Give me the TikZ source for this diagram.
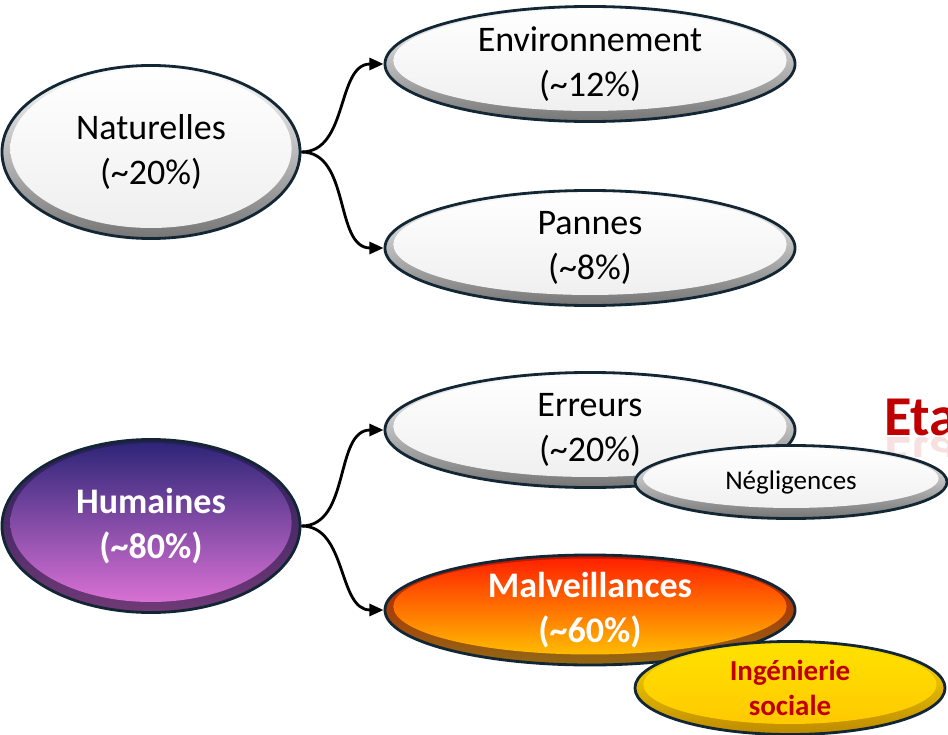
\documentclass[tikz,border=0pt]{standalone}
\usepackage{fontspec}
\setmainfont{Carlito}
\usepackage{xcolor}
\usepackage{tikz}
\usetikzlibrary{shapes.geometric, arrows.meta, calc}
\definecolor{edgeDark}{RGB}{18, 38, 52}
\definecolor{rimGrey}{RGB}{118, 118, 118}
\definecolor{innerGrey}{RGB}{238, 238, 238}
\definecolor{humTop}{RGB}{42, 36, 118}
\definecolor{humBot}{RGB}{228, 118, 218}
\definecolor{humRimTop}{RGB}{40, 28, 92}
\definecolor{humRimBot}{RGB}{112, 58, 118}
\definecolor{malTop}{RGB}{255, 28, 0}
\definecolor{malBot}{RGB}{255, 205, 0}
\definecolor{malRim}{RGB}{145, 105, 20}
\definecolor{ingTop}{RGB}{255, 226, 0}
\definecolor{ingBot}{RGB}{255, 198, 0}
\definecolor{ingRim}{RGB}{190, 138, 0}
\definecolor{titleRed}{RGB}{192, 0, 0}

\tikzset{
  bubble/.style n args={4}{ellipse, draw=edgeDark, line width=2pt, inner sep=0pt, align=center,
    top color=#1, bottom color=#2,
    path picture={
      \shade[top color=#3, bottom color=#4]
        let \p1=($(path picture bounding box.north east)-(path picture bounding box.south west)$) in
        ([yshift=2.5pt]path picture bounding box.center) ellipse ({0.5*\x1-6pt} and {0.5*\y1-5pt});
    }},
  greyBubble/.style={bubble={white}{rimGrey}{white}{innerGrey}, text=black},
  bigText/.style={font=\fontsize{25.6}{32}\selectfont},
  bigBold/.style={font=\bfseries\fontsize{25.6}{32}\selectfont, text=white},
  link/.style={-{Triangle[length=10pt, width=8.5pt]}, line width=2pt, black}
}

\begin{document}
\begin{tikzpicture}[x=0.025cm, y=-0.025cm]
    \useasboundingbox (0,0) rectangle (948,735);
    % Naturelles branch
    \node[greyBubble, bigText, minimum width=7.45cm, minimum height=4.325cm] (naturelles) at (151,152) {Naturelles\\(\textasciitilde20\%)};
    \node[greyBubble, bigText, minimum width=10.25cm, minimum height=2.875cm] (environnement) at (590,64) {Environnement\\(\textasciitilde12\%)};
    \node[greyBubble, bigText, minimum width=10.25cm, minimum height=2.875cm] (pannes) at (590,248) {Pannes\\(\textasciitilde8\%)};
    \draw[link] (naturelles.east) to[out=0, in=180] (environnement.west);
    \draw[link] (naturelles.east) to[out=0, in=180] (pannes.west);
    % Humaines branch
    \node[bubble={humRimTop}{humRimBot}{humTop}{humBot}, bigBold, minimum width=7.45cm, minimum height=4.325cm] (humaines) at (151,526) {Humaines\\(\textasciitilde80\%)};
    \node[greyBubble, bigText, minimum width=10.25cm, minimum height=2.875cm] (erreurs) at (590,430) {Erreurs\\(\textasciitilde20\%)};
    % Title piece behind
    \node[anchor=base west, inner sep=0pt, text=titleRed, font=\bfseries\fontsize{40}{40}\selectfont] (titre) at (884,435) {Eta};
    \begin{scope}
      \clip (860,437) rectangle (948,456);
      \node[anchor=base west, inner sep=0pt, yscale=-1, text=titleRed!12, font=\bfseries\fontsize{40}{40}\selectfont] (reflet) at (884,437) {Eta};
    \end{scope}
    \node[greyBubble, font=\fontsize{19.2}{23}\selectfont, minimum width=7.8cm, minimum height=1.825cm] (negligences) at (791,482) {Négligences};
    \node[bubble={malTop!75!black}{malRim}{malTop}{malBot}, bigBold, minimum width=10.25cm, minimum height=2.75cm] (malveillances) at (590,610) {Malveillances\\(\textasciitilde60\%)};
    \node[bubble={ingTop}{ingRim}{ingTop}{ingBot}, font=\bfseries\fontsize{20.6}{25}\selectfont, text=titleRed, minimum width=7.75cm, minimum height=2.325cm] (ingenierie) at (790,688) {Ingénierie\\sociale};
    \draw[link] (humaines.east) to[out=0, in=180] (erreurs.west);
    \draw[link] (humaines.east) to[out=0, in=180] (malveillances.west);
\end{tikzpicture}
\end{document}
